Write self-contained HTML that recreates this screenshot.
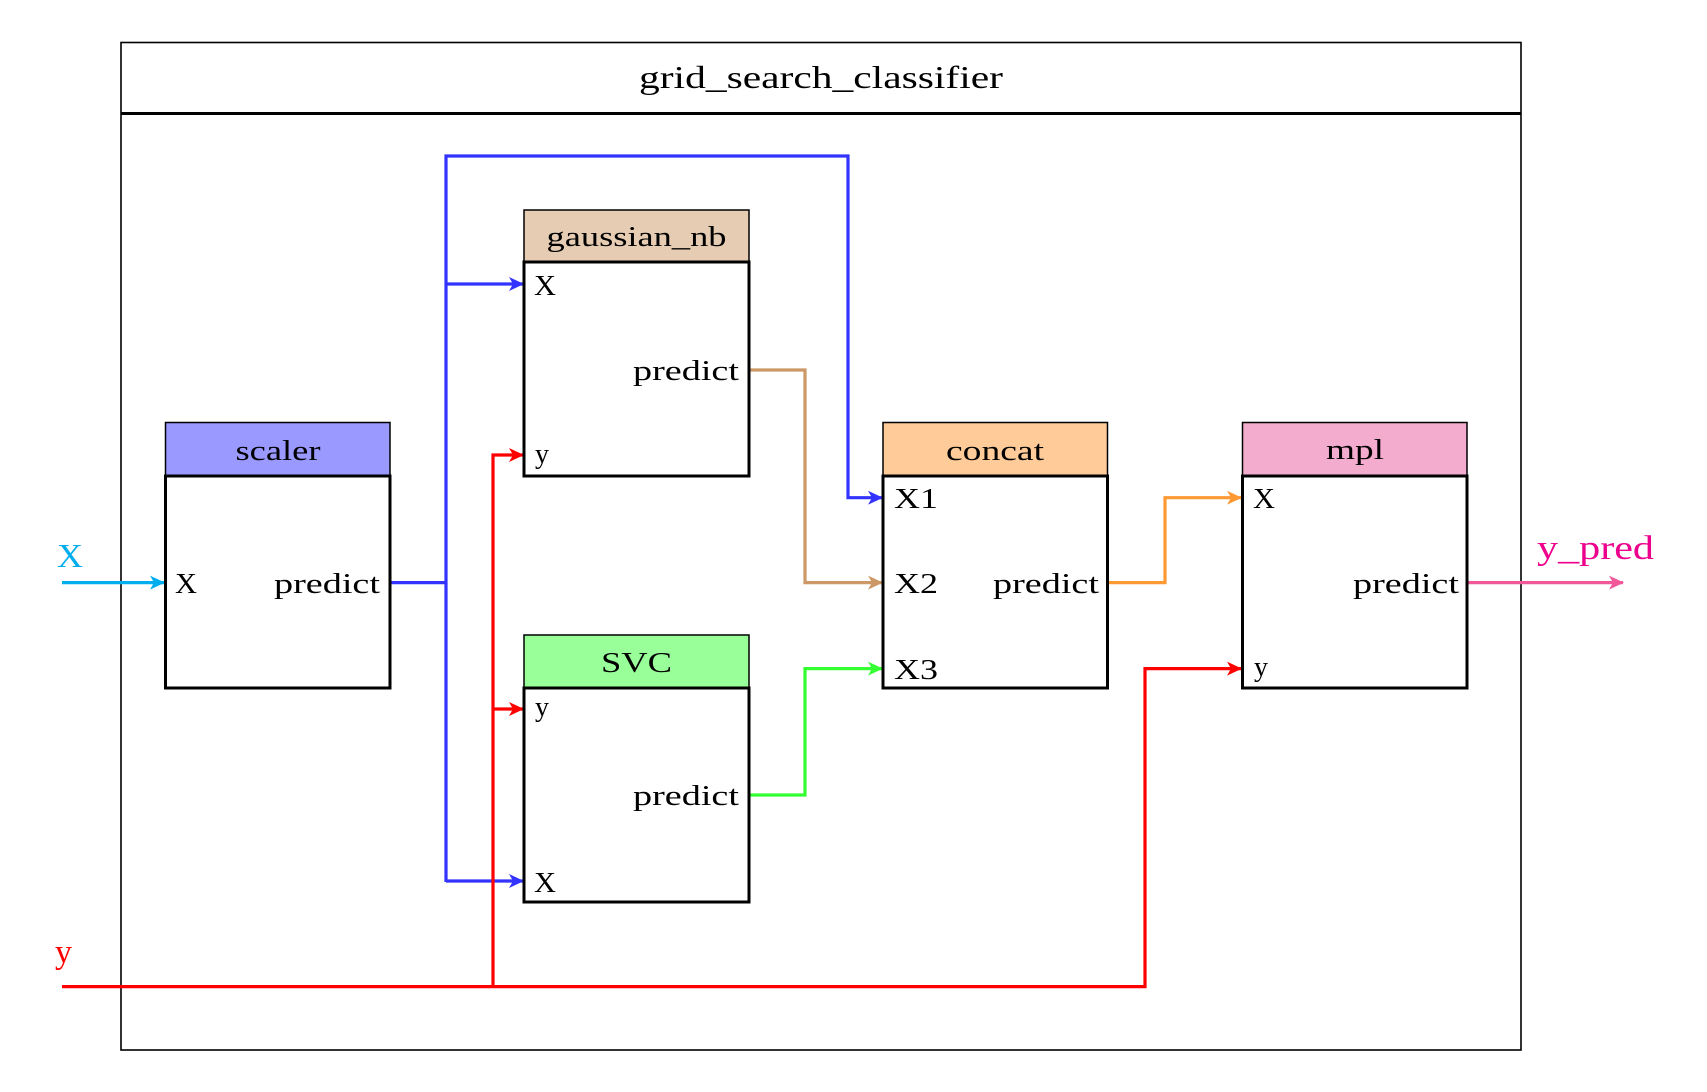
<!DOCTYPE html>
<html><head><meta charset="utf-8"><style>
html,body{margin:0;padding:0;background:#fff;width:1707px;height:1092px;overflow:hidden}
svg{display:block}
text{font-family:"Liberation Serif",serif;fill:#000}
</style></head><body>
<svg width="1707" height="1092" viewBox="0 0 1707 1092" xmlns="http://www.w3.org/2000/svg">
<defs>
<marker id="ac" markerWidth="16" markerHeight="14" refX="14" refY="7" orient="auto" markerUnits="userSpaceOnUse"><path d="M0,0 L15,7 L0,14 L4,7 Z" fill="#00aeef"/></marker>
<marker id="ab" markerWidth="16" markerHeight="14" refX="14" refY="7" orient="auto" markerUnits="userSpaceOnUse"><path d="M0,0 L15,7 L0,14 L4,7 Z" fill="#3333ff"/></marker>
<marker id="ar" markerWidth="16" markerHeight="14" refX="14" refY="7" orient="auto" markerUnits="userSpaceOnUse"><path d="M0,0 L15,7 L0,14 L4,7 Z" fill="#ff0000"/></marker>
<marker id="at" markerWidth="16" markerHeight="14" refX="14" refY="7" orient="auto" markerUnits="userSpaceOnUse"><path d="M0,0 L15,7 L0,14 L4,7 Z" fill="#cc9966"/></marker>
<marker id="ag" markerWidth="16" markerHeight="14" refX="14" refY="7" orient="auto" markerUnits="userSpaceOnUse"><path d="M0,0 L15,7 L0,14 L4,7 Z" fill="#33ff33"/></marker>
<marker id="ao" markerWidth="16" markerHeight="14" refX="14" refY="7" orient="auto" markerUnits="userSpaceOnUse"><path d="M0,0 L15,7 L0,14 L4,7 Z" fill="#ff9933"/></marker>
<marker id="ap" markerWidth="16" markerHeight="14" refX="14" refY="7" orient="auto" markerUnits="userSpaceOnUse"><path d="M0,0 L15,7 L0,14 L4,7 Z" fill="#f0589a"/></marker>
</defs>
<rect x="121" y="42.5" width="1400" height="1007.5" fill="none" stroke="#000" stroke-width="1.6"/>
<line x1="121" y1="113.5" x2="1521" y2="113.5" stroke="#000" stroke-width="3"/>
<text x="639" y="88" font-size="32" textLength="364" lengthAdjust="spacingAndGlyphs">grid_search_classifier</text>

<g fill="none" stroke-width="3.2">
<path d="M62,582.6 H164" stroke="#00aeef" marker-end="url(#ac)"/>
<path d="M390,582.6 H446 M446,882 V156 H848 V497.7 H882" stroke="#3333ff" marker-end="url(#ab)"/>
<path d="M446,284 H523" stroke="#3333ff" marker-end="url(#ab)"/>
<path d="M446,881 H523" stroke="#3333ff" marker-end="url(#ab)"/>
<path d="M62,986.6 H1145 V668.6 H1241" stroke="#ff0000" marker-end="url(#ar)"/>
<path d="M493,986.6 V455 H523" stroke="#ff0000" marker-end="url(#ar)"/>
<path d="M493,709 H523" stroke="#ff0000" marker-end="url(#ar)"/>
<path d="M749,370 H805 V582.6 H882" stroke="#cc9966" marker-end="url(#at)"/>
<path d="M749,795 H805 V668.6 H882" stroke="#33ff33" marker-end="url(#ag)"/>
<path d="M1107.5,582.6 H1165 V497.7 H1241" stroke="#ff9933" marker-end="url(#ao)"/>
<path d="M1467,582.6 H1623" stroke="#f0589a" marker-end="url(#ap)"/>
</g>

<g stroke="#000">
<rect x="165.5" y="422.5" width="224.5" height="53.5" fill="#9999ff" stroke-width="1.5"/>
<rect x="165.5" y="476" width="224.5" height="212" fill="#fff" stroke-width="3"/>
<rect x="524" y="210" width="225" height="52" fill="#e5ccb2" stroke-width="1.5"/>
<rect x="524" y="262" width="225" height="214" fill="#fff" stroke-width="3"/>
<rect x="524" y="635" width="225" height="53" fill="#99ff99" stroke-width="1.5"/>
<rect x="524" y="688" width="225" height="214" fill="#fff" stroke-width="3"/>
<rect x="883" y="422.5" width="224.5" height="53.5" fill="#ffcc99" stroke-width="1.5"/>
<rect x="883" y="476" width="224.5" height="212" fill="#fff" stroke-width="3"/>
<rect x="1242.5" y="422.5" width="224.5" height="53.5" fill="#f4acce" stroke-width="1.5"/>
<rect x="1242.5" y="476" width="224.5" height="212" fill="#fff" stroke-width="3"/>
</g>

<g font-size="28" lengthAdjust="spacingAndGlyphs">
<text x="235.5" y="460" textLength="85" lengthAdjust="spacingAndGlyphs">scaler</text>
<text x="546.5" y="246" textLength="180" lengthAdjust="spacingAndGlyphs">gaussian_nb</text>
<text x="601" y="672" textLength="71" lengthAdjust="spacingAndGlyphs">SVC</text>
<text x="946" y="460" textLength="98" lengthAdjust="spacingAndGlyphs">concat</text>
<text x="1326" y="459" textLength="58" lengthAdjust="spacingAndGlyphs">mpl</text>

<text x="175" y="593" textLength="22" lengthAdjust="spacingAndGlyphs">X</text>
<text x="274" y="593" textLength="106" lengthAdjust="spacingAndGlyphs">predict</text>

<text x="534" y="295" textLength="22" lengthAdjust="spacingAndGlyphs">X</text>
<text x="633" y="380" textLength="106" lengthAdjust="spacingAndGlyphs">predict</text>
<text x="535" y="463">y</text>

<text x="535" y="716">y</text>
<text x="633" y="805" textLength="106" lengthAdjust="spacingAndGlyphs">predict</text>
<text x="534" y="892" textLength="22" lengthAdjust="spacingAndGlyphs">X</text>

<text x="894" y="508" textLength="44" lengthAdjust="spacingAndGlyphs">X1</text>
<text x="894" y="593" textLength="44" lengthAdjust="spacingAndGlyphs">X2</text>
<text x="894" y="679" textLength="44" lengthAdjust="spacingAndGlyphs">X3</text>
<text x="993" y="593" textLength="106" lengthAdjust="spacingAndGlyphs">predict</text>

<text x="1253" y="508" textLength="22" lengthAdjust="spacingAndGlyphs">X</text>
<text x="1353" y="593" textLength="106" lengthAdjust="spacingAndGlyphs">predict</text>
<text x="1254" y="676">y</text>
</g>
<text x="57" y="567" font-size="34" textLength="26" lengthAdjust="spacingAndGlyphs" style="fill:#00aeef">X</text>
<text x="55" y="963" font-size="34" style="fill:#ff0000">y</text>
<text x="1537" y="559" font-size="34" textLength="117" lengthAdjust="spacingAndGlyphs" style="fill:#ec008c">y_pred</text>
</svg>
</body></html>
